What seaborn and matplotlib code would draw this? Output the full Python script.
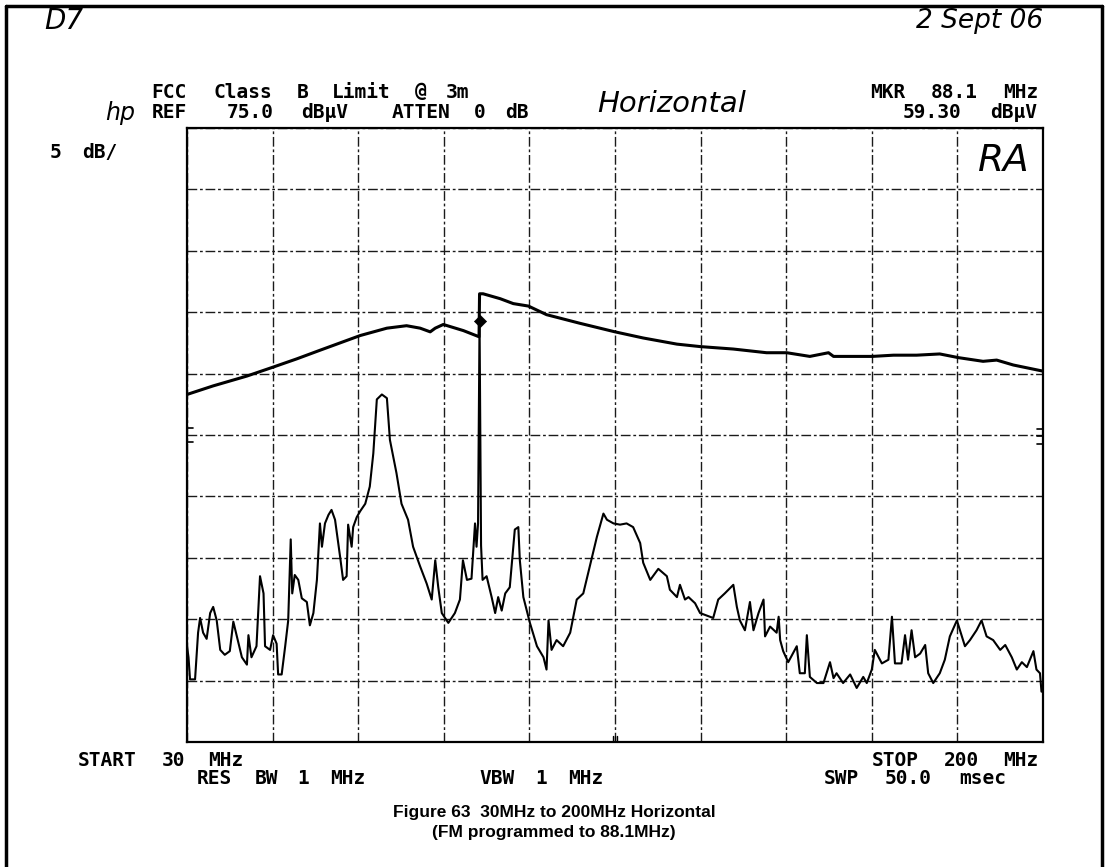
import re
import numpy as np
import pandas as pd
import matplotlib
matplotlib.use("Agg")
import matplotlib.pyplot as plt
from matplotlib.lines import Line2D
import seaborn as sns

# ---------------- data ----------------
start_mhz = 30
stop_mhz = 200
ref_level = 75.0
db_per_div = 5

limit_freq = [30.0, 35.2, 41.9, 46.9, 51.8, 56.4, 60.4, 64.4, 69.7, 73.6, 76.3, 78.3,
              79.3, 80.9, 84.9, 88.0, 88.1, 88.8, 92.2, 94.8, 97.8, 101.4, 108.0, 115.0,
              120.6, 127.3, 131.9, 138.5, 145.1, 149.1, 153.7, 157.4, 158.4, 166.1, 170.3,
              174.9, 179.5, 183.2, 188.1, 190.8, 194.1, 200.0]
limit_level = [53.3, 54.0, 54.8, 55.5, 56.2, 56.9, 57.5, 58.1, 58.7, 58.9, 58.7, 58.4,
               58.7, 59.0, 58.5, 58.0, 61.5, 61.5, 61.1, 60.7, 60.5, 59.8, 59.1, 58.4,
               57.9, 57.4, 57.2, 57.0, 56.7, 56.7, 56.4, 56.7, 56.4, 56.4, 56.5,
               56.5, 56.6, 56.3, 56.0, 56.1, 55.7, 55.2]

trace_freq = [30.0, 30.3, 30.6, 31.6, 32.2, 32.6, 33.2, 33.9, 34.6, 35.2, 35.9, 36.6,
              37.5, 38.5, 39.2, 39.9, 40.9, 41.9, 42.2, 42.8, 43.8, 44.5, 45.2, 45.5,
              46.5, 47.1, 47.8, 48.1, 48.8, 49.5, 50.1, 50.6, 50.9, 51.4, 52.1, 52.8,
              53.8, 54.4, 55.1, 55.8, 56.4, 56.8, 57.4, 58.1, 58.7, 59.4, 60.4, 61.0,
              61.7, 62.0, 62.7, 63.0, 63.7, 64.4, 65.4, 66.3, 67.0, 67.7, 68.7, 69.7,
              70.3, 71.6, 72.6, 73.9, 74.9, 76.3, 77.6, 78.6, 79.3, 79.9, 80.6, 81.9,
              83.2, 84.2, 84.8, 85.6, 86.5, 87.2, 87.5, 87.8, 88.1, 88.4, 88.7, 89.5,
              90.5, 91.2, 91.8, 92.5, 93.2, 94.1, 95.1, 95.8, 96.1, 96.8, 98.1, 99.5,
              100.8, 101.4, 101.8, 102.4, 103.4, 104.7, 106.1, 107.4, 108.7, 110.0, 111.4,
              112.7, 113.4, 114.7, 116.0, 117.3, 118.6, 120.0, 120.6, 122.0, 123.6, 125.3,
              125.9, 127.3, 127.9, 128.9, 129.6, 130.9, 131.9, 133.2, 134.5, 135.5, 136.8,
              138.5, 139.2, 139.8, 140.8, 141.8, 142.5, 143.5, 144.5, 144.8, 145.8, 147.1,
              147.5, 147.8, 148.4, 149.4, 151.1, 151.7, 152.7, 153.1, 153.7, 155.1, 156.4,
              157.7, 158.4, 159.0, 160.3, 161.7, 163.0, 164.3, 165.0, 166.0, 166.6, 168.0,
              169.3, 170.0, 170.6, 171.9, 172.6, 173.2, 173.9, 174.6, 175.6, 176.6, 177.2,
              178.2, 179.5, 180.5, 181.5, 182.9, 183.9, 184.5, 185.5, 186.8, 187.8, 188.8,
              190.1, 191.5, 192.5, 193.8, 194.8, 195.8, 196.8, 198.1, 198.7, 199.4, 199.7,
              200.0]
trace_level = [32.8, 31.9, 30.1, 30.1, 33.9, 35.1, 33.9, 33.4, 35.5, 36.0, 34.9, 32.5,
               32.1, 32.4, 34.8, 33.6, 31.9, 31.3, 33.7, 31.9, 32.8, 38.5, 37.1, 32.8,
               32.5, 33.7, 33.0, 30.5, 30.5, 32.8, 34.9, 41.5, 37.1, 38.6, 38.2, 36.7,
               36.4, 34.5, 35.5, 38.2, 42.8, 40.9, 42.8, 43.5, 43.9, 43.1, 40.1, 38.2,
               38.5, 42.7, 40.9, 42.5, 43.3, 43.8, 44.4, 45.8, 48.5, 52.9, 53.3, 53.0,
               49.6, 46.9, 44.4, 43.1, 40.9, 39.3, 37.9, 36.6, 39.8, 37.6, 35.5, 34.7,
               35.5, 36.6, 39.8, 38.2, 38.3, 42.8, 40.9, 42.8, 59.3, 41.0, 38.2, 38.5,
               36.8, 35.5, 36.8, 35.7, 37.1, 37.6, 42.3, 42.5, 39.8, 36.8, 34.7, 32.8,
               31.9, 30.9, 34.9, 32.5, 33.3, 32.8, 33.9, 36.6, 37.1, 39.3, 41.7,
               43.6, 43.1, 42.8, 42.7, 42.8, 42.5, 41.2, 39.6, 38.2, 39.1, 38.5,
               37.4, 36.8, 37.8, 36.6, 36.8, 36.3, 35.5, 35.3, 35.1, 36.6, 37.1,
               37.8, 36.0, 34.9, 34.1, 36.4, 34.1, 35.5, 36.6, 33.6, 34.4, 33.9,
               35.2, 33.3, 32.4, 31.5, 32.8, 30.6, 30.6, 33.7, 30.3, 29.8, 29.8,
               31.5, 30.2, 30.6, 29.8, 30.5, 29.4, 30.3, 29.8, 30.9, 32.5, 31.4,
               31.7, 35.2, 31.4, 31.4, 33.7, 31.7, 34.1, 31.9, 32.2, 32.9, 30.6,
               29.8, 30.6, 31.7, 33.6, 34.9, 33.6, 32.8, 33.3, 34.1, 34.9, 33.6,
               33.3, 32.5, 32.9, 31.9, 30.9, 31.5, 31.1, 32.4, 30.9, 30.6, 29.1,
               29.2]

marker_freq = [88.1]
marker_level = [59.3]

header_left = ["FCC Class B Limit @ 3m", "REF  75.0 dB\u03bcV  ATTEN 0 dB"]
header_right = ["MKR 88.1 MHz", "59.30 dB\u03bcV"]
scale_label = "5 dB/"
footer_left = "START 30 MHz"
footer_right = "STOP 200 MHz"
footer_mid = ["RES BW 1 MHz", "VBW 1 MHz", "SWP 50.0 msec"]
caption = ["Figure 63  30MHz to 200MHz Horizontal", "(FM programmed to 88.1MHz)"]

# ---------------- figure ----------------
sns.set_theme(style="white")
plt.rcParams["font.family"] = ["DejaVu Sans"]

W, H = 1108, 867
fig = plt.figure(figsize=(W / 100, H / 100), dpi=100)
fig.patch.set_facecolor("white")

gx0, gx1, gy0, gy1 = 187, 1043, 128, 742
ax = fig.add_axes([gx0 / W, 1 - gy1 / H, (gx1 - gx0) / W, (gy1 - gy0) / H])
ax.set_facecolor("white")

sns.lineplot(x=limit_freq, y=limit_level, sort=False, estimator=None,
             color="black", lw=2.2, ax=ax)
sns.lineplot(x=trace_freq, y=trace_level, sort=False, estimator=None,
             color="black", lw=1.5, ax=ax)
sns.scatterplot(x=marker_freq, y=marker_level, marker="D", s=38, color="black",
                edgecolor="black", ax=ax, zorder=6)

ax.set_xlim(start_mhz, stop_mhz)
bottom = ref_level - 10 * db_per_div
ax.set_ylim(bottom, ref_level)
ax.set_xticks(np.linspace(start_mhz, stop_mhz, 11))
ax.set_yticks(np.arange(bottom, ref_level + 0.1, db_per_div))
ax.tick_params(length=0, labelbottom=False, labelleft=False)
ax.set_xlabel("")
ax.set_ylabel("")
ax.grid(True, color="#1a1a1a", lw=1.0, linestyle=(0, (7, 2, 2, 2)))
for sp in ax.spines.values():
    sp.set_color("black")
    sp.set_linewidth(1.6)

# small display-line / center markers on the graticule edges
for yv in (50.6, 49.4):
    ax.plot([30, 31.2], [yv, yv], color="black", lw=1.2)
for yv in (50.5, 49.9, 49.3):
    ax.plot([198.8, 200], [yv, yv], color="black", lw=1.2)
for xv in (114.6, 115.0, 115.4):
    ax.plot([xv, xv], [25, 25.5], color="black", lw=1.0)

# ---------------- text ----------------
PITCH = 14.8
MONO = dict(family="DejaVu Sans Mono", fontsize=14, fontweight="bold",
            color="black", va="center", ha="center")


def mono(s, x, y, align="left"):
    x0 = x - len(s) * PITCH if align == "right" else x
    for m in re.finditer(r"\S+", s):
        cx = x0 + (m.start() + len(m.group()) / 2) * PITCH
        fig.text(cx / W, 1 - y / H, m.group(), **MONO)


mono(header_left[0], 147, 92)
mono(header_left[1], 147, 112)
mono(header_right[0], 1043, 92, "right")
mono(header_right[1], 1043, 112, "right")
mono(scale_label, 48, 153)
mono(footer_left, 70, 760)
mono(footer_right, 1043, 760, "right")
mono(footer_mid[0], 192, 779)
mono(footer_mid[1], 475, 779)
mono(footer_mid[2], 1012, 779, "right")

HAND = dict(family="DejaVu Sans", fontstyle="italic", fontweight="light",
            color="black", va="center", ha="center")
fig.text(64 / W, 1 - 21 / H, "D7", fontsize=20, **HAND)
fig.text(980 / W, 1 - 21 / H, "2 Sept 06", fontsize=19, **HAND)
fig.text(672 / W, 1 - 104 / H, "Horizontal", fontsize=21, **HAND)
fig.text(1004 / W, 1 - 161 / H, "RA", fontsize=27, **HAND)
fig.text(120 / W, 1 - 113 / H, "hp", fontsize=17, **HAND)

CAP = dict(family=["Liberation Sans Narrow", "Liberation Sans"], fontsize=12.5,
           fontweight="bold", color="black", va="center", ha="center")
fig.text(554 / W, 1 - 812 / H, caption[0], **CAP)
fig.text(554 / W, 1 - 833 / H, caption[1], **CAP)

# page frame
for xs, ys in [([6, 6], [6, H]), ([6, 1102], [6, 6]), ([1102, 1102], [6, H])]:
    fig.add_artist(Line2D([v / W for v in xs], [1 - v / H for v in ys],
                          transform=fig.transFigure, color="black", lw=2.5))

fig.savefig("out.png", dpi=100, facecolor="white")
